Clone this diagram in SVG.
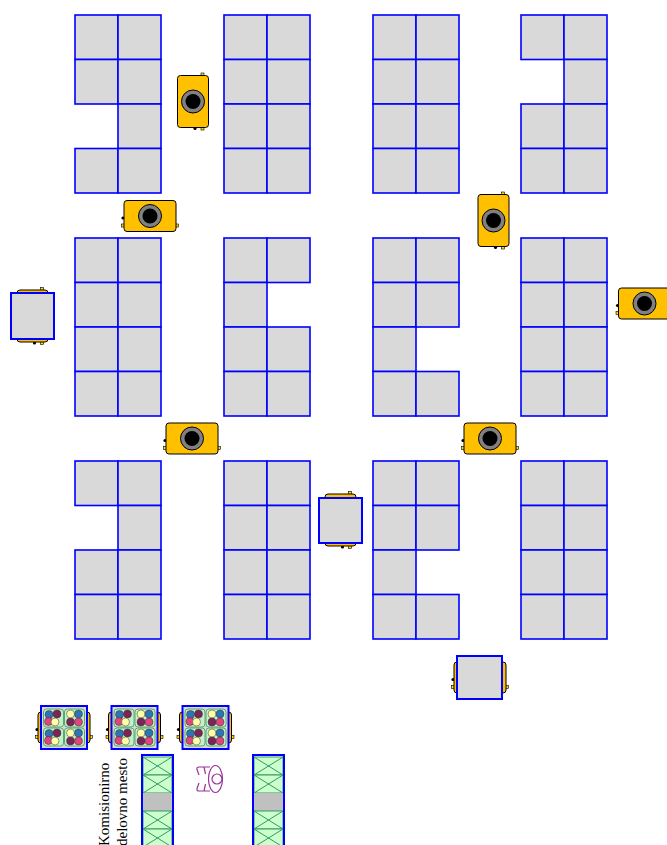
<svg xmlns="http://www.w3.org/2000/svg" xmlns:xlink="http://www.w3.org/1999/xlink" width="667" height="845" viewBox="0 0 667 845">
  <style>
    .cell { fill: #d9d9d9; stroke: #0000ff; stroke-width: 1.6; }
    .body { fill: #ffc000; stroke: #000; stroke-width: 1; }
    .ring { fill: #808080; stroke: #000; stroke-width: 1; }
    .lens { fill: #000; }
    .mk-y { fill: #ffd800; stroke: #000; stroke-width: 0.6; }
    .mk-b { fill: #000; }
    .load { fill: #d9d9d9; stroke: #0000ff; stroke-width: 2; }
    .tray { fill: #d9d9d9; stroke: #0000ff; stroke-width: 2; }
    .tile { fill: #c6efce; stroke: #5aa86b; stroke-width: 1; }
    .bin { fill: #ccffcc; stroke: #339966; stroke-width: 1; }
    .binx { stroke: #339966; stroke-width: 1; fill: none; }
    .gap { fill: #c0c0c0; }
    .rack { fill: none; stroke: #0000ff; stroke-width: 2; }
    .op { fill: none; stroke: #993399; stroke-width: 1.2; }
    .lbl { font-family: "Liberation Serif", "DejaVu Serif", serif; font-size: 15px; fill: #000; }
  </style>
  <defs>
    <rect id="cell" class="cell" width="43" height="44.5"/>
    <!-- drive unit, drawn horizontally around its centre -->
    <g id="drive">
      <circle class="mk-b" cx="-27" cy="2" r="1.6"/>
      <rect class="mk-y" x="-28.5" y="8" width="3" height="3"/>
      <rect class="mk-y" x="25.5" y="8" width="3" height="3"/>
      <rect class="body" x="-26" y="-15.5" width="52" height="31" rx="3"/>
    </g>
    <g id="robot">
      <use xlink:href="#drive"/>
      <circle class="ring" r="11.5"/>
      <circle class="lens" r="7.5"/>
    </g>
    <!-- pick tray with mixed items -->
    <g id="tile">
      <rect class="tile" width="20" height="18" rx="3"/>
      <circle cx="5.5" cy="5.5" r="4" fill="#2e75b6" stroke="#333" stroke-width="0.5"/>
      <circle cx="13.5" cy="5" r="4" fill="#7b2458" stroke="#333" stroke-width="0.5"/>
      <circle cx="5" cy="12.5" r="4" fill="#e0457b" stroke="#333" stroke-width="0.5"/>
      <circle cx="11.5" cy="13" r="4" fill="#ffffa8" stroke="#333" stroke-width="0.5"/>
    </g>
    <g id="tile2">
      <rect class="tile" width="20" height="18" rx="3"/>
      <circle cx="6" cy="5" r="4" fill="#ffffa8" stroke="#333" stroke-width="0.5"/>
      <circle cx="14" cy="5" r="4" fill="#2e75b6" stroke="#333" stroke-width="0.5"/>
      <circle cx="6" cy="13" r="4" fill="#7b2458" stroke="#333" stroke-width="0.5"/>
      <circle cx="14" cy="13" r="4" fill="#e0457b" stroke="#333" stroke-width="0.5"/>
    </g>
    <g id="tray">
      <use xlink:href="#drive" transform="translate(23,21.5)"/>
      <rect class="tray" width="46" height="43"/>
      <use xlink:href="#tile" x="2.5" y="3"/>
      <use xlink:href="#tile2" x="23.5" y="3"/>
      <use xlink:href="#tile" x="2.5" y="22"/>
      <use xlink:href="#tile2" x="23.5" y="22"/>
    </g>
    <g id="bin">
      <rect class="bin" width="29" height="18"/>
      <path class="binx" d="M0,0 L29,18 M29,0 L0,18"/>
    </g>
    <g id="rack">
      <rect fill="#fff" width="31" height="95"/>
      <use xlink:href="#bin" x="1" y="2"/>
      <use xlink:href="#bin" x="1" y="20"/>
      <rect class="gap" x="1" y="38" width="29" height="18"/>
      <use xlink:href="#bin" x="1" y="56"/>
      <use xlink:href="#bin" x="1" y="74"/>
      <rect class="rack" width="31" height="95"/>
    </g>
  </defs>

  <!-- storage blocks -->
  <g id="block-a1" transform="translate(75,15)">
    <use xlink:href="#cell" x="0" y="0"/><use xlink:href="#cell" x="43" y="0"/>
    <use xlink:href="#cell" x="0" y="44.5"/><use xlink:href="#cell" x="43" y="44.5"/>
    <use xlink:href="#cell" x="43" y="89"/>
    <use xlink:href="#cell" x="0" y="133.5"/><use xlink:href="#cell" x="43" y="133.5"/>
  </g>
  <g id="block-a2" transform="translate(224,15)">
    <use xlink:href="#cell" x="0" y="0"/><use xlink:href="#cell" x="43" y="0"/>
    <use xlink:href="#cell" x="0" y="44.5"/><use xlink:href="#cell" x="43" y="44.5"/>
    <use xlink:href="#cell" x="0" y="89"/><use xlink:href="#cell" x="43" y="89"/>
    <use xlink:href="#cell" x="0" y="133.5"/><use xlink:href="#cell" x="43" y="133.5"/>
  </g>
  <g id="block-a3" transform="translate(373,15)">
    <use xlink:href="#cell" x="0" y="0"/><use xlink:href="#cell" x="43" y="0"/>
    <use xlink:href="#cell" x="0" y="44.5"/><use xlink:href="#cell" x="43" y="44.5"/>
    <use xlink:href="#cell" x="0" y="89"/><use xlink:href="#cell" x="43" y="89"/>
    <use xlink:href="#cell" x="0" y="133.5"/><use xlink:href="#cell" x="43" y="133.5"/>
  </g>
  <g id="block-a4" transform="translate(521,15)">
    <use xlink:href="#cell" x="0" y="0"/><use xlink:href="#cell" x="43" y="0"/>
    <use xlink:href="#cell" x="43" y="44.5"/>
    <use xlink:href="#cell" x="0" y="89"/><use xlink:href="#cell" x="43" y="89"/>
    <use xlink:href="#cell" x="0" y="133.5"/><use xlink:href="#cell" x="43" y="133.5"/>
  </g>

  <g id="block-b1" transform="translate(75,238)">
    <use xlink:href="#cell" x="0" y="0"/><use xlink:href="#cell" x="43" y="0"/>
    <use xlink:href="#cell" x="0" y="44.5"/><use xlink:href="#cell" x="43" y="44.5"/>
    <use xlink:href="#cell" x="0" y="89"/><use xlink:href="#cell" x="43" y="89"/>
    <use xlink:href="#cell" x="0" y="133.5"/><use xlink:href="#cell" x="43" y="133.5"/>
  </g>
  <g id="block-b2" transform="translate(224,238)">
    <use xlink:href="#cell" x="0" y="0"/><use xlink:href="#cell" x="43" y="0"/>
    <use xlink:href="#cell" x="0" y="44.5"/>
    <use xlink:href="#cell" x="0" y="89"/><use xlink:href="#cell" x="43" y="89"/>
    <use xlink:href="#cell" x="0" y="133.5"/><use xlink:href="#cell" x="43" y="133.5"/>
  </g>
  <g id="block-b3" transform="translate(373,238)">
    <use xlink:href="#cell" x="0" y="0"/><use xlink:href="#cell" x="43" y="0"/>
    <use xlink:href="#cell" x="0" y="44.5"/><use xlink:href="#cell" x="43" y="44.5"/>
    <use xlink:href="#cell" x="0" y="89"/>
    <use xlink:href="#cell" x="0" y="133.5"/><use xlink:href="#cell" x="43" y="133.5"/>
  </g>
  <g id="block-b4" transform="translate(521,238)">
    <use xlink:href="#cell" x="0" y="0"/><use xlink:href="#cell" x="43" y="0"/>
    <use xlink:href="#cell" x="0" y="44.5"/><use xlink:href="#cell" x="43" y="44.5"/>
    <use xlink:href="#cell" x="0" y="89"/><use xlink:href="#cell" x="43" y="89"/>
    <use xlink:href="#cell" x="0" y="133.5"/><use xlink:href="#cell" x="43" y="133.5"/>
  </g>

  <g id="block-c1" transform="translate(75,461)">
    <use xlink:href="#cell" x="0" y="0"/><use xlink:href="#cell" x="43" y="0"/>
    <use xlink:href="#cell" x="43" y="44.5"/>
    <use xlink:href="#cell" x="0" y="89"/><use xlink:href="#cell" x="43" y="89"/>
    <use xlink:href="#cell" x="0" y="133.5"/><use xlink:href="#cell" x="43" y="133.5"/>
  </g>
  <g id="block-c2" transform="translate(224,461)">
    <use xlink:href="#cell" x="0" y="0"/><use xlink:href="#cell" x="43" y="0"/>
    <use xlink:href="#cell" x="0" y="44.5"/><use xlink:href="#cell" x="43" y="44.5"/>
    <use xlink:href="#cell" x="0" y="89"/><use xlink:href="#cell" x="43" y="89"/>
    <use xlink:href="#cell" x="0" y="133.5"/><use xlink:href="#cell" x="43" y="133.5"/>
  </g>
  <g id="block-c3" transform="translate(373,461)">
    <use xlink:href="#cell" x="0" y="0"/><use xlink:href="#cell" x="43" y="0"/>
    <use xlink:href="#cell" x="0" y="44.5"/><use xlink:href="#cell" x="43" y="44.5"/>
    <use xlink:href="#cell" x="0" y="89"/>
    <use xlink:href="#cell" x="0" y="133.5"/><use xlink:href="#cell" x="43" y="133.5"/>
  </g>
  <g id="block-c4" transform="translate(521,461)">
    <use xlink:href="#cell" x="0" y="0"/><use xlink:href="#cell" x="43" y="0"/>
    <use xlink:href="#cell" x="0" y="44.5"/><use xlink:href="#cell" x="43" y="44.5"/>
    <use xlink:href="#cell" x="0" y="89"/><use xlink:href="#cell" x="43" y="89"/>
    <use xlink:href="#cell" x="0" y="133.5"/><use xlink:href="#cell" x="43" y="133.5"/>
  </g>

  <!-- empty drive units -->
  <g id="robot-1"><use xlink:href="#robot" transform="translate(193,101.5) rotate(-90)"/></g>
  <g id="robot-2"><use xlink:href="#robot" transform="translate(150,216)"/></g>
  <g id="robot-3"><use xlink:href="#robot" transform="translate(192,438.5)"/></g>
  <g id="robot-4"><use xlink:href="#robot" transform="translate(493.5,220.5) rotate(-90)"/></g>
  <g id="robot-5"><use xlink:href="#robot" transform="translate(490,438.5)"/></g>
  <g id="robot-6"><use xlink:href="#robot" transform="translate(644.5,303.5)"/></g>

  <!-- drive units carrying storage pods -->
  <g id="pod-1">
    <use xlink:href="#drive" transform="translate(32.5,316) rotate(-90)"/>
    <rect class="load" x="11" y="293" width="43" height="46"/>
  </g>
  <g id="pod-2">
    <use xlink:href="#drive" transform="translate(340.5,520) rotate(-90)"/>
    <rect class="load" x="319" y="498" width="43" height="45"/>
  </g>
  <g id="pod-3">
    <use xlink:href="#drive" transform="translate(480,677.5)"/>
    <rect class="load" x="457" y="656" width="45" height="43"/>
  </g>

  <!-- pick trays waiting at the station -->
  <g id="tray-1"><use xlink:href="#tray" x="41" y="706"/></g>
  <g id="tray-2"><use xlink:href="#tray" x="111.5" y="706"/></g>
  <g id="tray-3"><use xlink:href="#tray" x="182.5" y="706"/></g>

  <!-- picking workstation -->
  <g id="rack-1"><use xlink:href="#rack" x="142" y="755"/></g>
  <g id="rack-2"><use xlink:href="#rack" x="253" y="755"/></g>
  <g id="operator">
    <ellipse class="op" cx="215.5" cy="779" rx="7" ry="13.5"/>
    <circle class="op" cx="217" cy="779" r="5"/>
    <path class="op" d="M210,767 L199,767 Q196.5,767 197,769.5 L199,775 M204,767 L205.5,774"/>
    <path class="op" d="M210,791 L199,791 Q196.5,791 197,788.5 L199,783 M204,791 L205.5,784"/>
  </g>
  <g id="label">
    <text class="lbl" transform="translate(108.5,846) rotate(-90)">Komisionirno</text>
    <text class="lbl" transform="translate(126.5,846) rotate(-90)">delovno mesto</text>
  </g>
  <g id="connectors"/>
</svg>
